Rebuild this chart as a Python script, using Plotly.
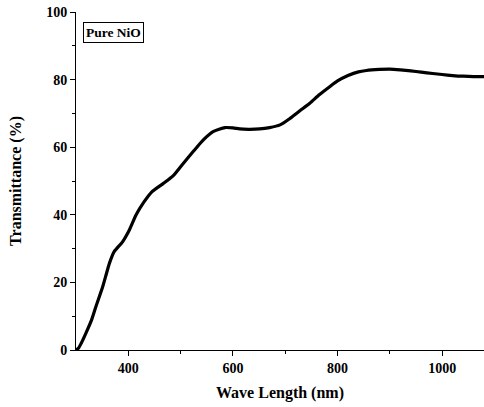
import plotly.graph_objects as go

wavelength = [300, 305, 310, 319, 330, 338, 351, 358, 364, 373, 389, 402, 415, 430, 445, 467, 486, 505, 524, 543, 562, 585, 600, 613, 630, 651, 670, 690, 709, 728, 747, 765, 785, 800, 820, 840, 855, 880, 900, 920, 940, 960, 982, 1000, 1020, 1040, 1060, 1080]
transmittance = [0, 0.6, 2.0, 5, 9, 12.8, 18.7, 22.5, 25.7, 29.1, 32, 35.5, 40, 43.8, 46.8, 49.3, 51.6, 55.2, 58.7, 62.1, 64.6, 65.8, 65.7, 65.4, 65.3, 65.4, 65.8, 66.6, 68.5, 70.8, 73, 75.5, 77.9, 79.6, 81.2, 82.3, 82.7, 83.0, 83.1, 82.9, 82.6, 82.2, 81.8, 81.5, 81.2, 81.0, 80.9, 80.9]

font = "Liberation Serif"
fig = go.Figure()
fig.add_trace(go.Scatter(x=wavelength, y=transmittance, mode="lines",
                         line=dict(color="black", width=3.2, shape="spline", smoothing=0.6),
                         showlegend=False))
fig.update_layout(
    width=484, height=407,
    margin=dict(l=76, r=0, t=12, b=57),
    paper_bgcolor="white", plot_bgcolor="white",
    font=dict(family=font, color="black"),
    xaxis=dict(range=[300, 1080], tickvals=[400, 600, 800, 1000], ticks="outside", ticklen=5,
               tickwidth=1, tickcolor="black", showline=True, linecolor="black", linewidth=1,
               showgrid=False, zeroline=False,
               minor=dict(tickvals=[500, 700, 900], ticks="outside", ticklen=3, tickcolor="black"),
               tickfont=dict(family=font, size=14, color="black", weight="bold"),
               title=dict(text="<b>Wave Length (nm)</b>", font=dict(family=font, size=16), standoff=12)),
    yaxis=dict(range=[0, 100], tickvals=[0, 20, 40, 60, 80, 100], ticks="outside", ticklen=5,
               tickwidth=1, tickcolor="black", showline=True, linecolor="black", linewidth=1,
               showgrid=False, zeroline=False,
               minor=dict(tickvals=[10, 30, 50, 70, 90], ticks="outside", ticklen=3, tickcolor="black"),
               tickfont=dict(family=font, size=14, color="black", weight="bold"),
               title=dict(text="<b>Transmittance (%)</b>", font=dict(family=font, size=16), standoff=20)),
)
fig.add_annotation(x=0.017, y=0.971, xref="paper", yref="paper", xanchor="left", yanchor="top",
                   text="<b>Pure NiO</b>", showarrow=False, bordercolor="black", borderwidth=1,
                   borderpad=2, font=dict(family=font, size=13.5, color="black"))
fig.write_html("out.html")
